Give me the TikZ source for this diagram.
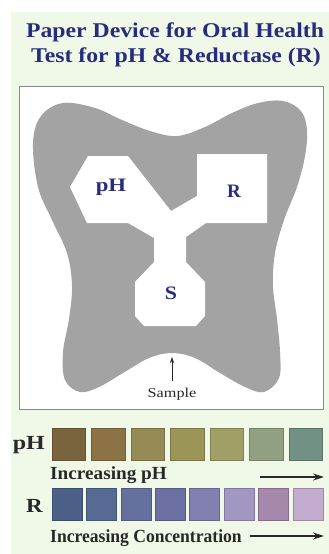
\documentclass[tikz,border=0pt]{standalone}
\usepackage{fontspec}
\setmainfont{Liberation Serif}
\usepackage{graphicx}
\usetikzlibrary{arrows.meta}
\definecolor{bggreen}{RGB}{240,249,232}
\definecolor{boxgray}{RGB}{138,138,138}
\definecolor{toothgray}{RGB}{163,163,163}
\definecolor{navy}{RGB}{40,44,125}
\definecolor{darktext}{RGB}{40,40,40}
\definecolor{pa}{RGB}{121,100,62}
\definecolor{pb}{RGB}{140,115,70}
\definecolor{pc}{RGB}{150,138,85}
\definecolor{pd}{RGB}{155,150,88}
\definecolor{pe}{RGB}{160,160,102}
\definecolor{pf}{RGB}{146,160,130}
\definecolor{pg}{RGB}{112,145,132}
\definecolor{ra}{RGB}{76,96,135}
\definecolor{rb}{RGB}{86,106,148}
\definecolor{rc}{RGB}{102,112,158}
\definecolor{rd}{RGB}{108,112,162}
\definecolor{re}{RGB}{130,128,176}
\definecolor{rf}{RGB}{162,150,194}
\definecolor{rg}{RGB}{166,136,172}
\definecolor{rh}{RGB}{196,172,206}
\tikzset{
  titletext/.style={text=navy, font=\fontsize{21}{24}\selectfont\bfseries, anchor=base, inner sep=0},
  chamberlabel/.style={text=navy, font=\fontsize{19}{22}\selectfont\bfseries, anchor=base, inner sep=0},
  rowlabel/.style={text=darktext, font=\fontsize{20}{23}\selectfont\bfseries, anchor=base east, inner sep=0},
  scaletext/.style={text=darktext, font=\fontsize{18.5}{21}\selectfont\bfseries, anchor=base west, inner sep=0},
  samplelabel/.style={text=darktext, font=\fontsize{13.5}{15}\selectfont, anchor=base, inner sep=0},
  swatch/.style={draw=#1!80!black, fill=#1, line width=0.6, anchor=north west, inner sep=0, outer sep=0},
  scalearrow/.style={draw=darktext, line width=1.1, -{Stealth[length=11,width=7]}},
}
\begin{document}
\begin{tikzpicture}[x=1pt,y=-1pt]
\useasboundingbox (0,0) rectangle (329,554);
\fill[bggreen] (11,12) rectangle (329,554);
% title
\node[titletext] (title1) at (175,37) {\scalebox{1.13}[1]{Paper Device for Oral Health}};
\node[titletext] (title2) at (176,62) {\scalebox{1.13}[1]{Test for pH \& Reductase (R)}};
% device box
\draw[boxgray, line width=1.5, fill=white] (19.5,86.5) rectangle (323.5,409.5);
% tooth shaped paper
\fill[toothgray] plot[smooth cycle, tension=0.6] coordinates {
 (33,143) (41,116) (63,103) (95,108) (122,120) (150,131) (177,136) (205,127)
 (232,113) (258,103) (283,101) (301,111) (307,130) (305,156) (297,187) (284,220)
 (275,253) (273,286) (277,319) (280,352) (279,378) (264,392) (245,387) (220,373)
 (195,358) (172,353) (149,358) (123,373) (99,387) (80,392) (65,380) (63,352)
 (69,319) (72,286) (67,253) (52,220) (38,187)};
% channels and chambers
\fill[white] (88,156) -- (128,156) -- (171,211) -- (197,196) -- (197,154) -- (267,154)
 -- (267,223) -- (206,223) -- (186,237) -- (186,262) -- (205,282) -- (205,316)
 -- (196,326) -- (144,326) -- (135,316) -- (135,282) -- (154,262) -- (154,238)
 -- (128,223) -- (87,223) -- (70,187) -- cycle;
\node[chamberlabel] (phc) at (111,191) {\scalebox{1.2}[1]{pH}};
\node[chamberlabel] (rc) at (234,197) {R};
\node[chamberlabel] (sc) at (171,299) {\scalebox{1.15}[1]{S}};
% sample
\node[samplelabel] (sample) at (172,397) {\scalebox{1.2}[1]{Sample}};
\coordinate (sbot) at (172,381);
\coordinate (stop) at (172,357);
\draw[darktext, line width=0.6, -{Stealth[length=6,width=4]}] (sbot) -- (stop);
% pH scale
\node[rowlabel] (phrow) at (45,449) {\scalebox{1.2}[1]{pH}};
\foreach \c [count=\i from 0] in {pa,pb,pc,pd,pe,pf,pg} {
  \node[swatch=\c, minimum width=33.5, minimum height=32] (ph\i) at ({52+39.5*\i},428) {};
}
\node[scaletext] (phtext) at (50,479) {\scalebox{1.04}[1]{Increasing pH}};
\coordinate (pharrs) at (260,477);
\coordinate (pharre) at (324,477);
\draw[scalearrow] (pharrs) -- (pharre);
% R scale
\node[rowlabel] (rrow) at (43,512) {\scalebox{1.15}[1]{R}};
\foreach \c [count=\i from 0] in {ra,rb,rc,rd,re,rf,rg,rh} {
  \node[swatch=\c, minimum width=30, minimum height=32] (r\i) at ({52+34.4*\i},488) {};
}
\node[scaletext] (rtext) at (50,542) {\scalebox{0.95}[1]{Increasing Concentration}};
\coordinate (rarrs) at (250,536);
\coordinate (rarre) at (324,536);
\draw[scalearrow] (rarrs) -- (rarre);
\end{tikzpicture}
\end{document}
